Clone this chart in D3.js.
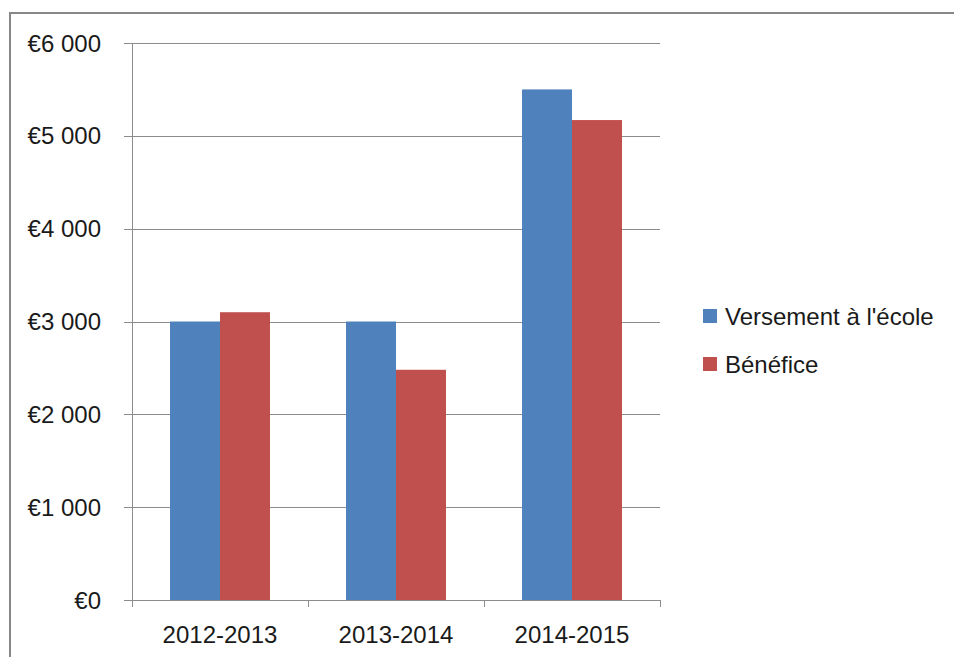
<!DOCTYPE html>
<html>
<head>
<meta charset="utf-8">
<script src="https://cdn.jsdelivr.net/npm/d3@7"></script>
<style>
  body { margin: 0; background: #fff; }
  svg { display: block; }
</style>
</head>
<body>
<svg id="mainSVG" width="954" height="657"></svg>
<script>
// donnees du graphique
var annees = ["2012-2013", "2013-2014", "2014-2015"];
var series = ["Versement à l'école", "Bénéfice"];
var versement = [3000, 3000, 5500];
var benefice = [3100, 2480, 5170];
var yTicks = [0, 1000, 2000, 3000, 4000, 5000, 6000];
var couleurs = ["#4F81BD", "#C0504D"];

var mainSVG = d3.select("#mainSVG");
var fonte = "Liberation Sans, Arial, sans-serif";

// cadre exterieur
mainSVG.append("rect")
	.attr("x", 10).attr("y", 13)
	.attr("width", 1000).attr("height", 700)
	.attr("fill", "none")
	.attr("stroke", "#878787")
	.attr("stroke-width", 2);

var margin = {left: 132, right: 660, top: 43, bottom: 600};

var xScale = d3.scaleBand()
	.domain(annees)
	.range([margin.left, margin.right])
	.paddingInner(0.432)
	.paddingOuter(0.216);
var xSub = d3.scaleBand()
	.domain(series)
	.range([0, xScale.bandwidth()]);
var yScale = d3.scaleLinear().domain([0, 6000]).range([margin.bottom, margin.top]);

// lignes de grille
mainSVG.append("g")
	.selectAll("line")
	.data(yTicks)
	.enter().append("line")
	.attr("x1", margin.left - 8)
	.attr("x2", margin.right)
	.attr("y1", function(d) { return Math.round(yScale(d)) + 0.5; })
	.attr("y2", function(d) { return Math.round(yScale(d)) + 0.5; })
	.attr("stroke", "#8c8c8c")
	.attr("stroke-width", 1);

// barres
var dados = [];
for (var i = 0; i < annees.length; ++i) {
	dados.push({annee: annees[i], serie: series[0], valeur: versement[i], cor: couleurs[0]});
	dados.push({annee: annees[i], serie: series[1], valeur: benefice[i], cor: couleurs[1]});
}
mainSVG.append("g")
	.selectAll("rect")
	.data(dados)
	.enter().append("rect")
	.attr("x", function(d) { return xScale(d.annee) + xSub(d.serie); })
	.attr("y", function(d) { return yScale(d.valeur); })
	.attr("width", xSub.bandwidth())
	.attr("height", function(d) { return yScale(0) - yScale(d.valeur); })
	.attr("fill", function(d) { return d.cor; });

// axe y
mainSVG.append("line")
	.attr("x1", margin.left + 0.5).attr("x2", margin.left + 0.5)
	.attr("y1", margin.top).attr("y2", margin.bottom)
	.attr("stroke", "#8c8c8c");

var formatEuro = function(d) {
	return "€" + d3.format(",")(d).replace(",", " ");
};
mainSVG.append("g")
	.selectAll("text")
	.data(yTicks)
	.enter().append("text")
	.attr("x", 101)
	.attr("y", function(d) { return yScale(d); })
	.attr("dy", "0.36em")
	.attr("text-anchor", "end")
	.attr("font-family", fonte)
	.style("font-size", "24px")
	.style("fill", "#1a1a1a")
	.text(formatEuro);

// axe x
var xAxis = d3.axisBottom(xScale).tickSize(0).tickFormat("");
var xAxisGroup = mainSVG.append("g")
	.attr("transform", "translate(0," + (margin.bottom + 0.5) + ")")
	.call(xAxis);
xAxisGroup.select(".domain").attr("stroke", "#8c8c8c").attr("d", "M" + (margin.left - 8) + ",0H" + margin.right);
var bordas = [margin.left];
annees.forEach(function(a) { bordas.push(xScale(a) + xScale.bandwidth() + xScale.step() * xScale.paddingInner() / 2); });
bordas[bordas.length - 1] = margin.right;
mainSVG.append("g")
	.selectAll("line")
	.data(bordas)
	.enter().append("line")
	.attr("x1", function(d) { return Math.round(d) + 0.5; })
	.attr("x2", function(d) { return Math.round(d) + 0.5; })
	.attr("y1", margin.bottom)
	.attr("y2", margin.bottom + 7)
	.attr("stroke", "#8c8c8c");

mainSVG.append("g")
	.selectAll("text")
	.data(annees)
	.enter().append("text")
	.attr("x", function(d) { return xScale(d) + xScale.bandwidth() / 2; })
	.attr("y", 643)
	.attr("text-anchor", "middle")
	.attr("font-family", fonte)
	.style("font-size", "24px")
	.style("fill", "#1a1a1a")
	.text(function(d) { return d; });

// legende
var legende = mainSVG.append("g")
	.selectAll("g")
	.data(series)
	.enter().append("g")
	.attr("transform", function(d, i) { return "translate(703," + (309 + i * 48) + ")"; });
legende.append("rect")
	.attr("width", 14).attr("height", 14)
	.attr("fill", function(d, i) { return couleurs[i]; });
legende.append("text")
	.attr("x", 22)
	.attr("y", 7)
	.attr("dy", "0.36em")
	.attr("font-family", fonte)
	.style("font-size", "24px")
	.style("fill", "#1a1a1a")
	.text(function(d) { return d; });
</script>
</body>
</html>
